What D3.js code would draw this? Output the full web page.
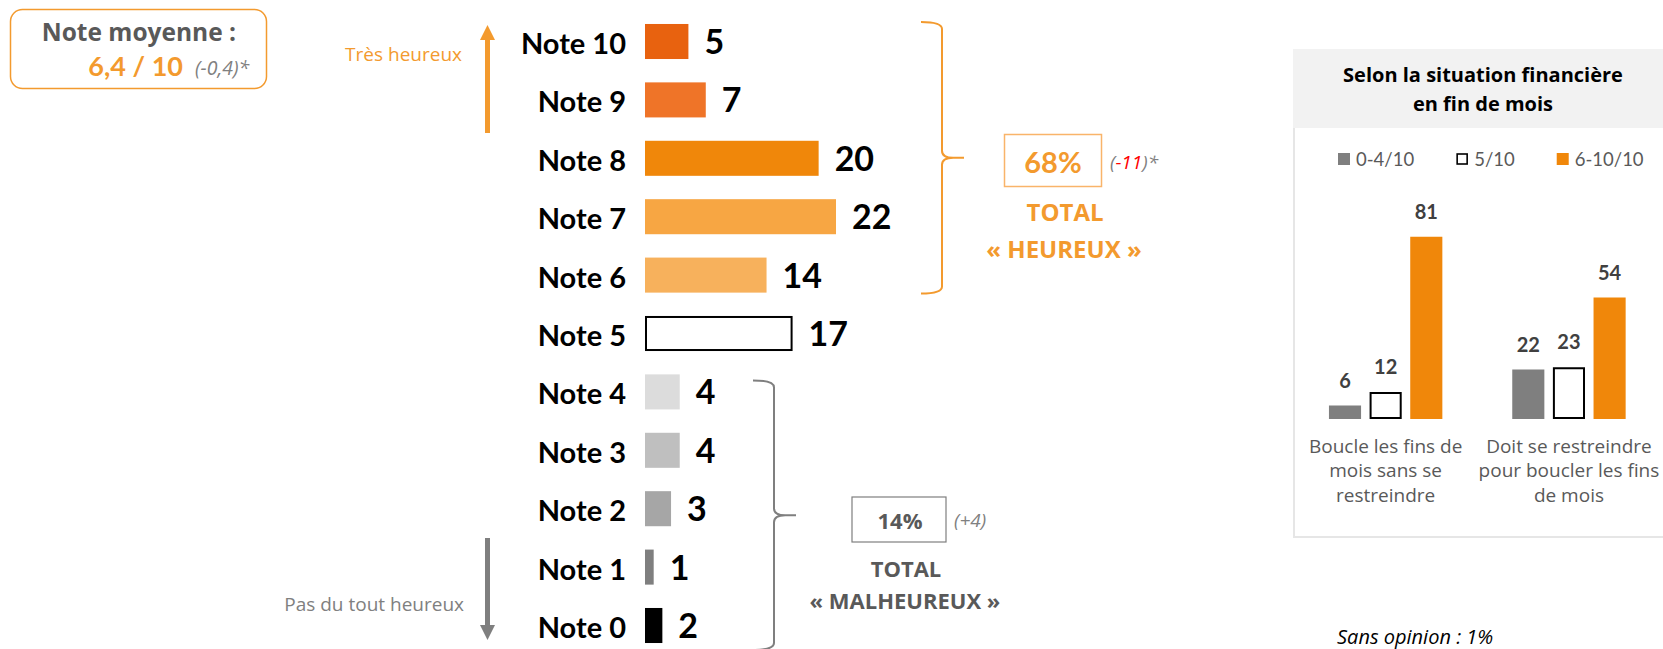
<!DOCTYPE html>
<html>
<head>
<meta charset="utf-8">
<script src="https://cdn.jsdelivr.net/npm/d3@7"></script>
<style>
  body { margin: 0; background: #fff; }
  svg { display: block; font-family: Lato, "Open Sans", sans-serif; }
  .os { font-family: "Open Sans", Lato, sans-serif; }
</style>
</head>
<body>
<svg id="chart"></svg>
<script>
// Notes de 10 à 0 (% de répondants)
const notes = ["Note 10", "Note 9", "Note 8", "Note 7", "Note 6", "Note 5",
               "Note 4", "Note 3", "Note 2", "Note 1", "Note 0"];
const noteValues = [5, 7, 20, 22, 14, 17, 4, 4, 3, 1, 2];

const meanScore = "6,4 / 10";
const meanChange = "(-0,4)*";
const happyTotal = "68%";
const happyChange = "-11";
const unhappyTotal = "14%";
const unhappyChange = "(+4)";

// Panneau de droite
const groups = ["Boucle les fins de mois sans se restreindre",
                "Doit se restreindre pour boucler les fins de mois"];
const groupLines = [["Boucle les fins de", "mois sans se", "restreindre"],
                    ["Doit se restreindre", "pour boucler les fins", "de mois"]];
const series = ["0-4/10", "5/10", "6-10/10"];
const groupValues = [[6, 12, 81], [22, 23, 54]];

const width = 1663, height = 649;
const ORANGE = "#f39a2e";

const svg = d3.select("#chart")
    .attr("width", width)
    .attr("height", height);

// couleurs par note
const noteColor = d3.scaleOrdinal()
    .domain(notes)
    .range(["#e8620f", "#ef7428", "#f0870a", "#f7a643", "#f7b15c", "#fff",
            "#dcdcdc", "#bfbfbf", "#a6a6a6", "#7f7f7f", "#000"]);

const y = d3.scaleBand()
    .domain(notes)
    .range([12.3, 654.7])
    .paddingInner(0.4)
    .paddingOuter(0.2);

const x = d3.scaleLinear()
    .domain([0, 22])
    .range([645, 836]);

const rows = svg.append("g").selectAll("g")
    .data(notes.map((n, i) => ({ note: n, value: noteValues[i] })))
    .join("g")
    .attr("transform", d => `translate(0,${y(d.note)})`);

rows.append("rect")
    .attr("x", d => d.note === "Note 5" ? x(0) + 1 : x(0))
    .attr("y", d => d.note === "Note 5" ? 1 : 0)
    .attr("width", d => d.note === "Note 5" ? x(d.value) - x(0) - 2 : x(d.value) - x(0))
    .attr("height", d => d.note === "Note 5" ? y.bandwidth() - 2 : y.bandwidth())
    .attr("fill", d => noteColor(d.note))
    .attr("stroke", d => d.note === "Note 5" ? "#000" : "none")
    .attr("stroke-width", 2);

rows.append("text")
    .attr("x", 626)
    .attr("y", 30)
    .attr("text-anchor", "end")
    .attr("font-size", 29)
    .attr("font-weight", "bold")
    .attr("fill", "#000")
    .text(d => d.note);

rows.append("text")
    .attr("x", d => x(d.value) + 16)
    .attr("y", 30)
    .attr("font-size", 34)
    .attr("font-weight", "bold")
    .attr("fill", "#000")
    .text(d => d.value);

// accolades
function brace(x0, xv, xt, top, bot, r) {
    const mid = (top + bot) / 2;
    return `M${x0},${top} Q${xv},${top} ${xv},${top + r} L${xv},${mid - r}` +
        ` Q${xv},${mid} ${xv + r * 1.6},${mid} L${xt},${mid}` +
        ` M${xv + r * 1.6},${mid} Q${xv},${mid} ${xv},${mid + r}` +
        ` L${xv},${bot - r} Q${xv},${bot} ${x0},${bot}`;
}

svg.append("path")
    .attr("d", brace(921, 942, 964, y("Note 10") - 2, y("Note 6") + y.bandwidth() + 1, 7))
    .attr("fill", "none")
    .attr("stroke", ORANGE)
    .attr("stroke-width", 2);

svg.append("path")
    .attr("d", brace(753, 774, 796, y("Note 4") + 6, y("Note 0") + y.bandwidth() + 7, 7))
    .attr("fill", "none")
    .attr("stroke", "#7f7f7f")
    .attr("stroke-width", 2);

// total heureux
svg.append("rect")
    .attr("x", 1004.5).attr("y", 134.5).attr("width", 97).attr("height", 52)
    .attr("fill", "#fff").attr("stroke", "#f9b46a").attr("stroke-width", 1.5);
svg.append("text")
    .attr("x", 1053).attr("y", 172.5)
    .attr("text-anchor", "middle")
    .attr("font-size", 29).attr("font-weight", "bold").attr("fill", ORANGE)
    .text(happyTotal);
const hc = svg.append("text")
    .attr("class", "os")
    .attr("x", 1110).attr("y", 169)
    .attr("font-size", 19).attr("font-style", "italic").attr("fill", "#808080");
hc.append("tspan").text("(");
hc.append("tspan").attr("fill", "#ff0000").text(happyChange);
hc.append("tspan").text(")*");

svg.append("text")
    .attr("class", "os")
    .attr("x", 1065).attr("y", 221)
    .attr("text-anchor", "middle")
    .attr("font-size", 24).attr("font-weight", "bold").attr("fill", ORANGE)
    .text("TOTAL");
svg.append("text")
    .attr("class", "os")
    .attr("x", 1064).attr("y", 258)
    .attr("text-anchor", "middle")
    .attr("font-size", 24).attr("font-weight", "bold").attr("fill", ORANGE)
    .text("« HEUREUX »");

// total malheureux
svg.append("rect")
    .attr("x", 852).attr("y", 497).attr("width", 94).attr("height", 45)
    .attr("fill", "#fff").attr("stroke", "#7f7f7f").attr("stroke-width", 1.2);
svg.append("text")
    .attr("class", "os")
    .attr("x", 900).attr("y", 529)
    .attr("text-anchor", "middle")
    .attr("font-size", 22).attr("font-weight", "bold").attr("fill", "#595959")
    .text(unhappyTotal);
svg.append("text")
    .attr("class", "os")
    .attr("x", 954).attr("y", 527)
    .attr("font-size", 19).attr("font-style", "italic").attr("fill", "#808080")
    .text(unhappyChange);
svg.append("text")
    .attr("class", "os")
    .attr("x", 906).attr("y", 577)
    .attr("text-anchor", "middle")
    .attr("font-size", 22).attr("font-weight", "bold").attr("fill", "#595959")
    .text("TOTAL");
svg.append("text")
    .attr("class", "os")
    .attr("x", 905).attr("y", 609)
    .attr("text-anchor", "middle")
    .attr("font-size", 22).attr("font-weight", "bold").attr("fill", "#595959")
    .text("« MALHEUREUX »");

// note moyenne
svg.append("rect")
    .attr("x", 10.5).attr("y", 9.5).attr("width", 256).attr("height", 79)
    .attr("rx", 12)
    .attr("fill", "#fff").attr("stroke", ORANGE).attr("stroke-width", 1.5);
svg.append("text")
    .attr("class", "os")
    .attr("x", 236).attr("y", 41)
    .attr("text-anchor", "end")
    .attr("font-size", 24.5).attr("font-weight", "bold").attr("fill", "#595959")
    .text("Note moyenne :");
svg.append("text")
    .attr("x", 183).attr("y", 76)
    .attr("text-anchor", "end")
    .attr("font-size", 27).attr("font-weight", "bold").attr("fill", ORANGE)
    .text(meanScore);
svg.append("text")
    .attr("class", "os")
    .attr("x", 195).attr("y", 75)
    .attr("font-size", 19.5).attr("font-style", "italic").attr("fill", "#808080")
    .text(meanChange);

// flèches
svg.append("text")
    .attr("class", "os")
    .attr("x", 462).attr("y", 61)
    .attr("text-anchor", "end")
    .attr("font-size", 19).attr("fill", ORANGE)
    .text("Très heureux");
svg.append("line")
    .attr("x1", 487.5).attr("x2", 487.5).attr("y1", 133).attr("y2", 38)
    .attr("stroke", ORANGE).attr("stroke-width", 5);
svg.append("path")
    .attr("d", "M480,40 L495,40 L487.5,25 Z")
    .attr("fill", ORANGE);

svg.append("text")
    .attr("class", "os")
    .attr("x", 464).attr("y", 611)
    .attr("text-anchor", "end")
    .attr("font-size", 19).attr("fill", "#808080")
    .text("Pas du tout heureux");
svg.append("line")
    .attr("x1", 487.5).attr("x2", 487.5).attr("y1", 538).attr("y2", 627)
    .attr("stroke", "#7f7f7f").attr("stroke-width", 5);
svg.append("path")
    .attr("d", "M480,625 L495,625 L487.5,640 Z")
    .attr("fill", "#7f7f7f");

// panneau situation financière
const panel = svg.append("g");
panel.append("rect")
    .attr("x", 1293).attr("y", 49).attr("width", 370).attr("height", 79)
    .attr("fill", "#f2f2f2");
panel.append("path")
    .attr("d", "M1294,128 L1294,537 L1663,537")
    .attr("fill", "none").attr("stroke", "#e6e6e6").attr("stroke-width", 2);
panel.append("text")
    .attr("class", "os")
    .attr("x", 1483).attr("y", 82)
    .attr("text-anchor", "middle")
    .attr("font-size", 20).attr("font-weight", "bold").attr("fill", "#000")
    .text("Selon la situation financière");
panel.append("text")
    .attr("class", "os")
    .attr("x", 1483).attr("y", 111)
    .attr("text-anchor", "middle")
    .attr("font-size", 20).attr("font-weight", "bold").attr("fill", "#000")
    .text("en fin de mois");

const seriesColor = d3.scaleOrdinal()
    .domain(series)
    .range(["#7f7f7f", "#fff", "#f0870a"]);

// légende
let lx = 1338;
series.forEach(s => {
    const item = panel.append("g").attr("transform", `translate(${lx},153)`);
    item.append("rect")
        .attr("x", s === "5/10" ? 1 : 0).attr("y", s === "5/10" ? 1 : 0)
        .attr("width", s === "5/10" ? 10 : 12).attr("height", s === "5/10" ? 10 : 12)
        .attr("fill", seriesColor(s))
        .attr("stroke", s === "5/10" ? "#000" : "none").attr("stroke-width", 1.6);
    const t = item.append("text")
        .attr("x", 18).attr("y", 12.5)
        .attr("font-size", 18.5).attr("fill", "#595959")
        .text(s);
    lx += 18 + t.node().getComputedTextLength() + 42;
});

const xg = d3.scaleBand()
    .domain(groups)
    .range([1294, 1660.6]);
const xs = d3.scaleBand()
    .domain(series)
    .range([0, xg.bandwidth()])
    .paddingInner(0.21)
    .paddingOuter(0.86);
const yp = d3.scaleLinear()
    .domain([0, 100])
    .range([419, 194]);

const gg = panel.append("g").selectAll("g")
    .data(groups.map((g, i) => ({ group: g, lines: groupLines[i], values: groupValues[i] })))
    .join("g")
    .attr("transform", d => `translate(${xg(d.group)},0)`);

gg.selectAll("rect")
    .data(d => d.values.map((v, j) => ({ s: series[j], v })))
    .join("rect")
    .attr("x", d => d.s === "5/10" ? xs(d.s) + 1 : xs(d.s))
    .attr("y", d => d.s === "5/10" ? yp(d.v) + 1 : yp(d.v))
    .attr("width", d => d.s === "5/10" ? xs.bandwidth() - 2 : xs.bandwidth())
    .attr("height", d => d.s === "5/10" ? yp(0) - yp(d.v) - 2 : yp(0) - yp(d.v))
    .attr("fill", d => seriesColor(d.s))
    .attr("stroke", d => d.s === "5/10" ? "#000" : "none")
    .attr("stroke-width", 2);

gg.selectAll("text.val")
    .data(d => d.values.map((v, j) => ({ s: series[j], v })))
    .join("text")
    .attr("class", "val")
    .attr("x", d => xs(d.s) + xs.bandwidth() / 2)
    .attr("y", d => yp(d.v) - 18)
    .attr("text-anchor", "middle")
    .attr("font-size", 20).attr("font-weight", "bold").attr("fill", "#404040")
    .text(d => d.v);

gg.selectAll("text.cat")
    .data(d => d.lines)
    .join("text")
    .attr("class", "cat os")
    .attr("x", xg.bandwidth() / 2)
    .attr("y", (d, i) => 453 + i * 24.3)
    .attr("text-anchor", "middle")
    .attr("font-size", 19).attr("fill", "#595959")
    .text(d => d);

svg.append("text")
    .attr("class", "os")
    .attr("x", 1337).attr("y", 644)
    .attr("font-size", 20).attr("font-style", "italic").attr("fill", "#000")
    .text("Sans opinion : 1%");
</script>
</body>
</html>
